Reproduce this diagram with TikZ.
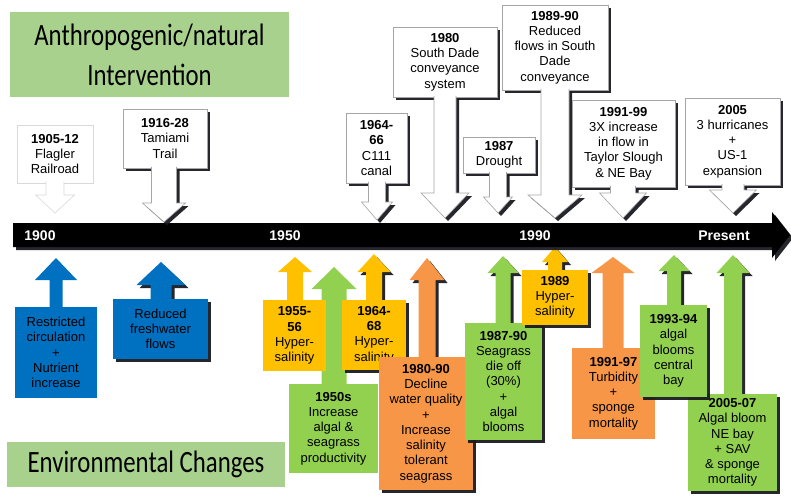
\documentclass[tikz,border=0pt]{standalone}
\usepackage{fontspec}
\setmainfont{Liberation Sans}
\newfontfamily\headfont{Carlito}[FakeStretch=0.8]
\usepackage{tikz}
\usetikzlibrary{calc, shadows, backgrounds}
\definecolor{HeadGreen}{HTML}{A9D18E}
\definecolor{CallBlue}{HTML}{0070C0}
\definecolor{CallYellow}{HTML}{FFC000}
\definecolor{CallGreen}{HTML}{92D050}
\definecolor{CallOrange}{HTML}{F79646}
\definecolor{EdgeGray}{HTML}{A6A6A6}
\definecolor{FaintGray}{HTML}{D9D9D9}
\definecolor{ShadowGray}{HTML}{1A1A22}
\tikzset{
  castshadow/.style={drop shadow={shadow xshift=3pt, shadow yshift=-3pt, fill=ShadowGray, opacity=0.95}},
  header/.style={fill=HeadGreen, inner sep=0pt, align=center, font=\headfont\fontsize{31}{40}\selectfont},
  event/.style={align=center, inner sep=2pt, font=\fontsize{13}{15.3}\selectfont},
  topbox/.style={event, draw=EdgeGray, fill=white, line width=0.6pt},
  toparrow/.style={draw=EdgeGray, fill=white, line width=0.6pt},
  bluebox/.style={event, fill=CallBlue},
  yellowbox/.style={event, fill=CallYellow},
  greenbox/.style={event, fill=CallGreen},
  orangebox/.style={event, fill=CallOrange},
  yearlabel/.style={text=white, font=\fontsize{14}{16}\selectfont\bfseries}
}
% fat arrow from a box to a tip: [style]{box}{tip}{shaft half width}{head half width}{head length}
\newcommand{\fatdown}[6][]{%
  \path[#1] let \p1=(#2.south), \p2=(#3) in
    (\x2-#4,\y1+1.5pt) -- (\x2-#4,\y2+#6) -- (\x2-#5,\y2+#6) -- (\p2)
    -- (\x2+#5,\y2+#6) -- (\x2+#4,\y2+#6) -- (\x2+#4,\y1+1.5pt);}
\newcommand{\fatup}[6][]{%
  \path[#1] let \p1=(#2.north), \p2=(#3) in
    (\x2-#4,\y1-4pt) -- (\x2-#4,\y2-#6) -- (\x2-#5,\y2-#6) -- (\p2)
    -- (\x2+#5,\y2-#6) -- (\x2+#4,\y2-#6) -- (\x2+#4,\y1-4pt) -- cycle;}

\begin{document}
\begin{tikzpicture}[x=1pt, y=-1pt]
\useasboundingbox (0,0) rectangle (791,495);

% headings
\node[header, minimum width=279pt, minimum height=85pt] (intervention) at (149.5,54.5) {Anthropogenic/natural\\Intervention};
\node[header, minimum width=278pt, minimum height=45pt] (envchange) at (146,464.5) {Environmental Changes};

% time axis
\fill[black, castshadow] (13,223) -- (772,223) -- (772,212) -- (790,235) -- (772,258) -- (772,247) -- (13,247) -- cycle;
\node[yearlabel] (y1900) at (40,236) {1900};
\node[yearlabel] (y1950) at (285,236) {1950};
\node[yearlabel] (y1990) at (535,236) {1990};
\node[yearlabel] (ynow) at (724,236) {Present};

% interventions (above the axis)
\node[topbox, draw=FaintGray, minimum width=76pt, minimum height=58pt] (flagler) at (55,154) {\textbf{1905-12}\\Flagler\\Railroad};
\coordinate (flagler-tip) at (55,213);
\fatdown[toparrow, draw=FaintGray]{flagler}{flagler-tip}{9pt}{19.5pt}{18pt}

\node[topbox, castshadow, minimum width=84pt, minimum height=59pt] (tamiami) at (165,138.5) {\textbf{1916-28}\\Tamiami\\Trail};
\coordinate (tamiami-tip) at (164,222);
\fatdown[toparrow, castshadow]{tamiami}{tamiami-tip}{12.5pt}{21.5pt}{19pt}

\node[topbox, castshadow, minimum width=61pt, minimum height=70pt] (canal) at (376.5,148) {\textbf{1964-}\\\textbf{66}\\C111\\canal};
\coordinate (canal-tip) at (377,220);
\fatdown[toparrow, castshadow]{canal}{canal-tip}{8.5pt}{15.5pt}{18pt}

\node[topbox, castshadow, minimum width=104pt, minimum height=70pt] (dade) at (445,62) {\textbf{1980}\\South Dade\\conveyance\\system};
\coordinate (dade-tip) at (445,218);
\fatdown[toparrow, castshadow]{dade}{dade-tip}{11pt}{24pt}{25pt}

\node[topbox, castshadow, minimum width=72pt, minimum height=36pt] (drought) at (499,155) {\textbf{1987}\\Drought};
\coordinate (drought-tip) at (498,213);
\fatdown[toparrow, castshadow]{drought}{drought-tip}{8.5pt}{14.5pt}{16pt}

\node[topbox, castshadow, minimum width=106pt, minimum height=85pt] (reduced) at (555,47.5) {\textbf{1989-90}\\Reduced\\flows in South\\Dade\\conveyance};
\coordinate (reduced-tip) at (555,218);
\fatdown[toparrow, castshadow]{reduced}{reduced-tip}{14pt}{27pt}{23pt}

\node[topbox, castshadow, minimum width=103pt, minimum height=87pt] (taylor) at (623.5,143.5) {\textbf{1991-99}\\3X increase\\in flow in\\Taylor Slough\\\& NE Bay};
\coordinate (taylor-tip) at (623,218);
\fatdown[toparrow, castshadow]{taylor}{taylor-tip}{12.5pt}{23.5pt}{25pt}

\node[topbox, castshadow, minimum width=95pt, minimum height=87pt] (hurricane) at (732.5,141.5) {\textbf{2005}\\3 hurricanes\\+\\US-1\\expansion};
\coordinate (hurricane-tip) at (733,213);
\fatdown[toparrow, castshadow]{hurricane}{hurricane-tip}{11pt}{23.5pt}{23pt}

% environmental changes (below the axis)
\node[bluebox, minimum width=82pt, minimum height=91pt] (circulation) at (56,352.5) {Restricted\\circulation\\+\\Nutrient\\increase};
\node[bluebox, castshadow, minimum width=95pt, minimum height=60pt] (freshwater) at (160.5,329) {Reduced\\freshwater\\flows};
\node[greenbox, minimum width=89pt, minimum height=89pt] (productivity) at (333.5,428.5) {\textbf{1950s}\\Increase\\algal \&\\seagrass\\productivity};
\node[yellowbox, minimum width=63pt, minimum height=71pt] (hyper55) at (294.5,335.5) {\textbf{1955-}\\\textbf{56}\\Hyper-\\salinity};
\node[yellowbox, castshadow, minimum width=64pt, minimum height=70pt] (hyper64) at (374,335) {\textbf{1964-}\\\textbf{68}\\Hyper-\\salinity};
\node[orangebox, castshadow, minimum width=94pt, minimum height=133pt] (decline) at (426,423.5) {\textbf{1980-90}\\Decline\\water quality\\+\\Increase\\salinity\\tolerant\\seagrass};
\node[greenbox, castshadow, minimum width=77pt, minimum height=117pt] (dieoff) at (503.5,381.5) {\textbf{1987-90}\\Seagrass\\die off\\(30\%)\\+\\algal\\blooms};
\node[yellowbox, castshadow, minimum width=66pt, minimum height=55pt] (hyper89) at (555,297.5) {\textbf{1989}\\Hyper-\\salinity};
\node[orangebox, minimum width=83pt, minimum height=91pt] (turbidity) at (613.5,393.5) {\textbf{1991-97}\\Turbidity\\+\\sponge\\mortality};
\node[greenbox, castshadow, minimum width=89pt, minimum height=97pt] (nebay) at (732.5,442.5) {\textbf{2005-07}\\Algal bloom\\NE bay\\+ SAV\\\& sponge\\mortality};
\node[greenbox, castshadow, minimum width=67pt, minimum height=92pt] (central) at (673.5,351) {\textbf{1993-94}\\algal\\blooms\\central\\bay};

\coordinate (circulation-tip) at (56,258);
\coordinate (freshwater-tip) at (161,262);
\coordinate (productivity-tip) at (334,267);
\coordinate (hyper55-tip) at (295,257);
\coordinate (hyper64-tip) at (374,254);
\coordinate (decline-tip) at (427,258);
\coordinate (dieoff-tip) at (503,256);
\coordinate (hyper89-tip) at (555,247);
\coordinate (turbidity-tip) at (613,257);
\coordinate (nebay-tip) at (733,255);
\coordinate (central-tip) at (674,255);

\begin{scope}[on background layer]
\fatup[fill=CallBlue]{circulation}{circulation-tip}{6.5pt}{21pt}{22pt}
\fatup[fill=CallBlue, castshadow]{freshwater}{freshwater-tip}{10.5pt}{24.5pt}{23pt}
\fatup[fill=CallGreen]{productivity}{productivity-tip}{12.5pt}{22.5pt}{22pt}
\fatup[fill=CallYellow]{hyper55}{hyper55-tip}{8pt}{17pt}{15pt}
\fatup[fill=CallYellow, castshadow]{hyper64}{hyper64-tip}{8pt}{16.5pt}{18pt}
\fatup[fill=CallOrange, castshadow]{decline}{decline-tip}{8.5pt}{17.5pt}{22pt}
\fatup[fill=CallGreen, castshadow]{dieoff}{dieoff-tip}{7.5pt}{15.5pt}{17pt}
\fatup[fill=CallYellow, castshadow]{hyper89}{hyper89-tip}{7pt}{13pt}{15pt}
\fatup[fill=CallOrange]{turbidity}{turbidity-tip}{10.5pt}{21.5pt}{16pt}
\fatup[fill=CallGreen, castshadow]{nebay}{nebay-tip}{9pt}{16.5pt}{18pt}
\fatup[fill=CallGreen, castshadow]{central}{central-tip}{7pt}{15.5pt}{16pt}
\end{scope}
\end{tikzpicture}
\end{document}
